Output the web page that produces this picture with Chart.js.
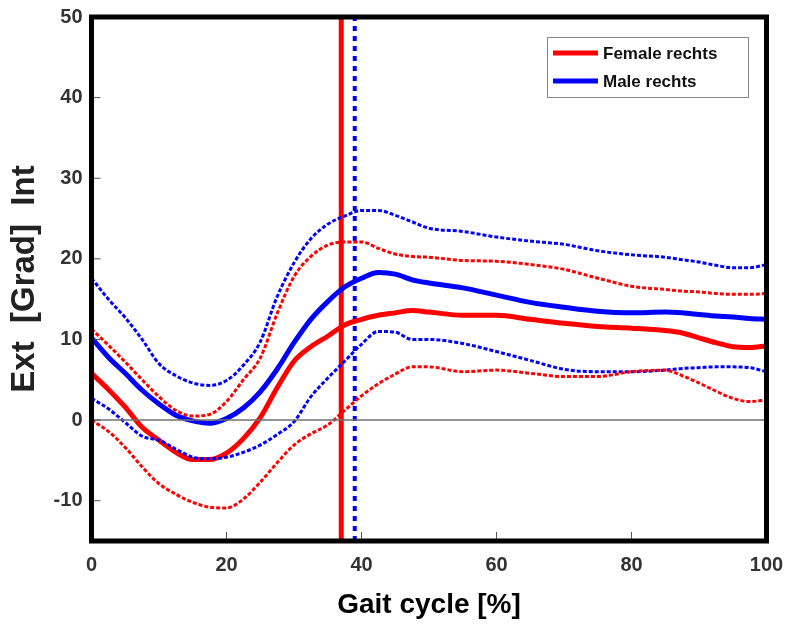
<!DOCTYPE html>
<html>
<head>
<meta charset="utf-8">
<script src="https://cdn.jsdelivr.net/npm/chart.js@4.4.1/dist/chart.umd.min.js"></script>
<style>
  html, body { margin: 0; padding: 0; background: #fff; }
  #wrap { width: 789px; height: 626px; }
</style>
</head>
<body>
<div id="wrap"><canvas id="gait" width="789" height="626"></canvas></div>
<script>
(function () {
  'use strict';

  // gait cycle in percent
  var cyclePct = [0, 2.5, 5, 7.5, 10, 12.5, 15, 17.5, 20, 22.5, 25, 27.5, 30, 32.5, 35, 37.5, 40, 42.5, 45, 47.5, 50,
    55, 60, 65, 70, 75, 80, 85, 87.5, 90, 92.5, 95, 97.5, 100];

  var femaleMean = [5.8, 3.8, 1.6, -0.9, -2.5, -4.0, -4.9, -4.9, -4.1, -2.3, 0.3, 4.0, 7.3, 9.1, 10.4, 11.8, 12.5, 13.0, 13.3, 13.6, 13.4,
    13.0, 13.0, 12.5, 12.0, 11.6, 11.4, 11.1, 10.8, 10.2, 9.6, 9.1, 9.0, 9.2];
  var femaleUpper = [11.3, 9.3, 7.2, 5.0, 2.9, 1.2, 0.5, 0.7, 2.3, 5.0, 7.7, 13.2, 17.8, 20.3, 21.7, 22.1, 22.1, 21.3, 20.6, 20.3, 20.2,
    19.8, 19.7, 19.3, 18.7, 17.6, 16.6, 16.2, 16.0, 15.9, 15.7, 15.6, 15.6, 15.7];
  var femaleLower = [0.0, -1.4, -3.4, -5.8, -7.9, -9.2, -10.2, -10.8, -10.9, -9.8, -7.7, -5.3, -3.1, -1.7, -0.6, 1.2, 3.0, 4.5, 5.7, 6.6, 6.6,
    6.0, 6.2, 5.8, 5.4, 5.4, 6.0, 6.2, 5.5, 4.6, 3.6, 2.7, 2.3, 2.5];

  var maleMean = [10.2, 7.8, 5.8, 3.7, 2.0, 0.6, -0.1, -0.4, 0.2, 1.5, 3.5, 6.3, 9.6, 12.5, 14.7, 16.5, 17.6, 18.3, 18.1, 17.4, 17.0,
    16.4, 15.5, 14.6, 14.0, 13.5, 13.3, 13.4, 13.3, 13.1, 12.9, 12.8, 12.6, 12.5];
  var maleUpper = [17.6, 15.0, 12.7, 10.0, 7.0, 5.5, 4.6, 4.3, 4.9, 6.8, 9.7, 15.3, 19.5, 22.5, 24.3, 25.3, 26.0, 26.0, 25.4, 24.6, 23.8,
    23.4, 22.7, 22.2, 21.8, 21.0, 20.5, 20.2, 19.9, 19.6, 19.2, 18.9, 18.9, 19.3];
  var maleLower = [2.7, 1.4, -0.3, -2.0, -2.5, -3.6, -4.6, -4.8, -4.6, -4.0, -3.1, -1.8, -0.2, 2.9, 5.2, 7.3, 9.4, 11.0, 10.9, 10.0, 10.0,
    9.5, 8.5, 7.4, 6.3, 6.0, 6.0, 6.2, 6.4, 6.5, 6.6, 6.6, 6.5, 6.0];

  // toe off (vertical markers)
  var femaleToeOff = 37;
  var maleToeOff = 39;

  var xTicks = [0, 20, 40, 60, 80, 100];
  var yTicks = [-10, 0, 10, 20, 30, 40, 50];
  var yRange = [-15, 50];

  var RED = '#ff0000';
  var BLUE = '#0000ff';
  var FONT = '"Liberation Sans", Arial, sans-serif';

  function pts(ys) {
    return cyclePct.map(function (x, i) {
      return { x: x, y: ys[i] };
    });
  }

  function vline(x) {
    return [{ x: x, y: yRange[0] }, { x: x, y: yRange[1] }];
  }

  function curve(label, ys, color, dotted) {
    return {
      label: label,
      data: pts(ys),
      borderColor: color,
      borderWidth: dotted ? 3 : 5,
      borderDash: dotted ? [4, 2] : [],
      pointRadius: 0,
      fill: false,
      cubicInterpolationMode: 'monotone',
      legendShow: !dotted,
    };
  }

  // frame, inner tick marks and the legend box
  var framePlugin = {
    id: 'frame',
    afterDatasetsDraw: function (chart) {
      var ctx = chart.ctx;
      var a = chart.chartArea;
      var xs = chart.scales.x;
      var ys = chart.scales.y;
      ctx.save();
      ctx.strokeStyle = '#555';
      ctx.lineWidth = 1;
      ctx.beginPath();
      xTicks.forEach(function (v) {
        var px = xs.getPixelForValue(v);
        ctx.moveTo(px, a.bottom);
        ctx.lineTo(px, a.bottom - 9);
      });
      yTicks.forEach(function (v) {
        var py = ys.getPixelForValue(v);
        ctx.moveTo(a.left, py);
        ctx.lineTo(a.left + 9, py);
      });
      ctx.stroke();
      ctx.strokeStyle = '#000';
      ctx.lineWidth = 5;
      ctx.strokeRect(a.left, a.top, a.right - a.left, a.bottom - a.top);
      ctx.restore();
    },
    afterDraw: function (chart) {
      var ctx = chart.ctx;
      var items = chart.data.datasets.filter(function (d) { return d.legendShow; });
      var bx = 547, by = 37, bw = 201, bh = 60;
      ctx.save();
      ctx.fillStyle = '#fff';
      ctx.fillRect(bx, by, bw, bh);
      ctx.strokeStyle = '#8a8a8a';
      ctx.lineWidth = 1;
      ctx.strokeRect(bx + 0.5, by + 0.5, bw, bh);
      ctx.font = 'bold 17px ' + FONT;
      ctx.textBaseline = 'middle';
      items.forEach(function (d, i) {
        var y = by + 16 + i * 28;
        ctx.strokeStyle = d.borderColor;
        ctx.lineWidth = 5;
        ctx.beginPath();
        ctx.moveTo(bx + 6, y);
        ctx.lineTo(bx + 51, y);
        ctx.stroke();
        ctx.fillStyle = '#111';
        ctx.fillText(d.label, bx + 56, y + 1);
      });
      ctx.restore();
    },
  };

  var zeroLine = {
    label: 'zero',
    data: [{ x: 0, y: 0 }, { x: 100, y: 0 }],
    borderColor: '#707070',
    borderWidth: 1.5,
    pointRadius: 0,
  };

  new Chart(document.getElementById('gait').getContext('2d'), {
    type: 'line',
    data: {
      datasets: [
        zeroLine,
        curve('Female upper', femaleUpper, RED, true),
        curve('Female lower', femaleLower, RED, true),
        curve('Male upper', maleUpper, BLUE, true),
        curve('Male lower', maleLower, BLUE, true),
        curve('Female rechts', femaleMean, RED, false),
        curve('Male rechts', maleMean, BLUE, false),
        { label: 'female TO', data: vline(femaleToeOff), borderColor: RED, borderWidth: 5, pointRadius: 0 },
        { label: 'male TO', data: vline(maleToeOff), borderColor: BLUE, borderWidth: 4, borderDash: [5, 5], pointRadius: 0 },
      ],
    },
    options: {
      responsive: false,
      animation: false,
      layout: { padding: { left: 0, top: 17, right: 22.5, bottom: 0 } },
      plugins: { legend: { display: false }, tooltip: { enabled: false } },
      scales: {
        x: {
          type: 'linear',
          min: 0,
          max: 100,
          grid: { display: false, drawTicks: false },
          border: { display: false },
          afterBuildTicks: function (s) {
            s.ticks = xTicks.map(function (v) { return { value: v }; });
          },
          afterFit: function (s) {
            s.height = 85;
            s.paddingLeft = 0;
            s.paddingRight = 0;
          },
          ticks: {
            padding: 12,
            color: '#333',
            maxRotation: 0,
            font: { family: FONT, size: 20, weight: 'bold' },
          },
          title: {
            display: true,
            text: 'Gait cycle [%]',
            color: '#000',
            padding: { top: 0, bottom: 4 },
            font: { family: FONT, size: 28, weight: 'bold' },
          },
        },
        y: {
          min: yRange[0],
          max: yRange[1],
          grid: { display: false, drawTicks: false },
          border: { display: false },
          afterBuildTicks: function (s) {
            s.ticks = yTicks.map(function (v) { return { value: v }; });
          },
          afterFit: function (s) {
            s.width = 91.5;
            s.paddingTop = 0;
            s.paddingBottom = 0;
          },
          ticks: {
            padding: 9,
            color: '#333',
            font: { family: FONT, size: 20, weight: 'bold' },
          },
          title: {
            display: true,
            text: 'Ext  [Grad]  Int',
            color: '#222',
            padding: { top: 5, bottom: 0 },
            font: { family: FONT, size: 33, weight: 'bold' },
          },
        },
      },
    },
    plugins: [framePlugin],
  });
})();
</script>
</body>
</html>
